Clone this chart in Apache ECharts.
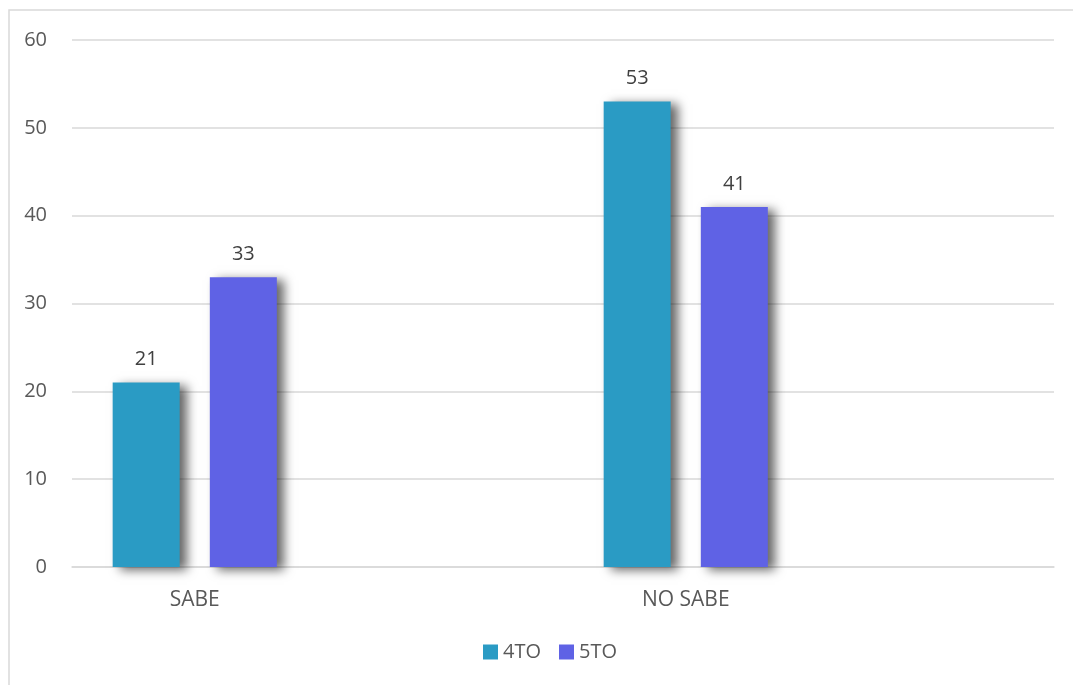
<!DOCTYPE html>
<html><head><meta charset="utf-8">
<script src="https://cdn.jsdelivr.net/npm/echarts@6/dist/echarts.min.js"></script>
<style>html,body{margin:0;padding:0;background:#fff}#c{width:1073px;height:685px}</style>
</head><body><div id="c"></div>
<script>
const categories = ['SABE', '', 'NO SABE', ''];
const series4TO = [21, null, 53, null];
const series5TO = [33, null, 41, null];
const yTicks = { min: 0, max: 60, interval: 10 };

const font = '"Open Sans", "Liberation Sans", sans-serif';
const chart = echarts.init(document.getElementById('c'));
const shadow = { shadowBlur: 10, shadowOffsetX: 7, shadowOffsetY: 3, shadowColor: 'rgba(0,0,0,0.6)' };
chart.setOption({
  animation: false,
  graphic: [{ type: 'rect', shape: { x: 9, y: 10, width: 1080, height: 700 }, style: { fill: 'none', stroke: '#d9d9d9', lineWidth: 1.5 }, z: -1 }],
  grid: { left: 72, right: 19, top: 40, bottom: 118 },
  legend: {
    top: 637, left: 478, itemWidth: 15, itemHeight: 15, itemGap: 18, itemTextGap: 6,
    textStyle: { color: '#595959', fontSize: 20, fontFamily: font },
    data: [{ name: '4TO', icon: 'rect' }, { name: '5TO', icon: 'rect' }]
  },
  xAxis: {
    type: 'category', data: categories,
    axisLine: { lineStyle: { color: '#d9d9d9', width: 1.5 } },
    axisTick: { show: false },
    axisLabel: { color: '#595959', fontSize: 21, fontFamily: font, margin: 23, interval: 0 }
  },
  yAxis: {
    type: 'value', min: yTicks.min, max: yTicks.max, interval: yTicks.interval,
    axisLine: { show: false }, axisTick: { show: false },
    splitLine: { lineStyle: { color: '#d9d9d9', width: 1.5 } },
    axisLabel: { color: '#595959', fontSize: 20, fontFamily: font, margin: 25 }
  },
  series: [
    { name: '4TO', type: 'bar', data: series4TO, barWidth: 67, barGap: '45%',
      itemStyle: Object.assign({ color: '#2a9bc4' }, shadow),
      label: { show: true, position: 'top', distance: 13, color: '#404040', fontSize: 20, fontFamily: font } },
    { name: '5TO', type: 'bar', data: series5TO, barWidth: 67,
      itemStyle: Object.assign({ color: '#5f62e5' }, shadow),
      label: { show: true, position: 'top', distance: 13, color: '#404040', fontSize: 20, fontFamily: font } }
  ]
});
</script></body></html>
